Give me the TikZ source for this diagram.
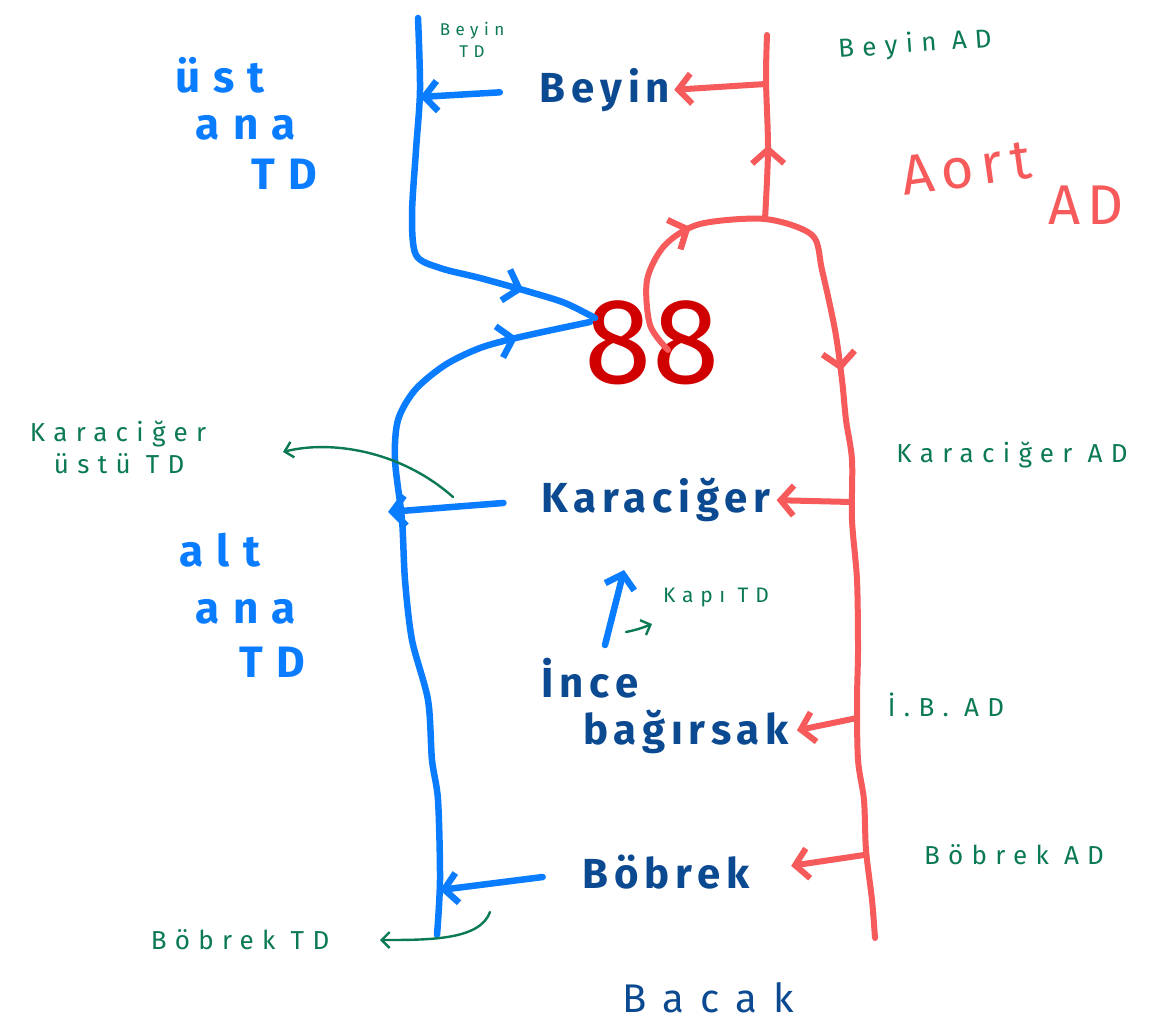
\documentclass[tikz,border=0pt]{standalone}
\usepackage{fontspec}
\usetikzlibrary{arrows.meta,decorations.markings}
\setmainfont{Fira Sans}
\newfontfamily\handfont[LetterSpace=14]{Fira Sans}
\newfontfamily\widefont[LetterSpace=40]{Fira Sans}
\newfontfamily\labelfont[LetterSpace=30]{Fira Sans}
\newfontfamily\notefont[LetterSpace=32]{Fira Sans}

\definecolor{organblue}{HTML}{0B4A91}
\definecolor{veinblue}{HTML}{0A7CFF}
\definecolor{arteryred}{HTML}{F65A5A}
\definecolor{heartred}{HTML}{D00000}
\definecolor{notegreen}{HTML}{0B7A52}

\tikzset{
  organ/.style={text=organblue, inner sep=0pt,
    font=\handfont\bfseries\fontsize{42}{46}\selectfont},
  veinlabel/.style={text=veinblue, inner sep=0pt,
    font=\labelfont\bfseries\fontsize{44}{48}\selectfont},
  aortlabel/.style={text=arteryred, inner sep=0pt,
    font=\handfont\fontsize{56}{60}\selectfont},
  note/.style={text=notegreen, inner sep=0pt,
    font=\notefont\fontsize{26}{32}\selectfont, align=center},
  tip/.style={-{Straight Barb[length=13pt,width=30pt]}},
  vein/.style={draw=veinblue, line width=6.5pt, line cap=round, line join=round},
  artery/.style={draw=arteryred, line width=6pt, line cap=round, line join=round},
  pointer/.style={draw=notegreen, line width=2.4pt, line cap=round,
    -{Straight Barb[length=8pt,width=16pt]}},
  flow/.style={postaction={decorate}, decoration={markings,
    mark=at position #1 with {\arrow{Straight Barb[length=14pt,width=32pt]}}}}
}

\begin{document}
\begin{tikzpicture}[x=1pt, y=-1pt]
\fill[white] (0,0) rectangle (1174,1027);
\useasboundingbox (0,0) rectangle (1174,1027);

% organs
\node[organ] (beyin) at (605,90) {Beyin};
\node[organ] (karaciger) at (656,500) {Karaciğer};
\node[organ] (ince) at (590,678) {İnce};
\node[organ] (bagirsak) at (686,732) {bağırsak};
\node[organ] (bobrek) at (666,872) {Böbrek};
\node[organ, font=\widefont\fontsize{40}{44}\selectfont] (bacak) at (708,998) {Bacak};

% heart
\node[text=heartred, inner sep=0pt, font=\fontsize{122}{124}\selectfont]
  (heart) at (652,343) {88};

% vein labels
\node[veinlabel] (ust1) at (220,75) {üst};
\node[veinlabel] (ust2) at (246,128) {ana};
\node[veinlabel] (ust3) at (284,174) {TD};
\node[veinlabel] (alt1) at (220,550) {alt};
\node[veinlabel] (alt2) at (246,612) {ana};
\node[veinlabel] (alt3) at (272,662) {TD};

% aorta label
\node[aortlabel, rotate=8] (aort) at (966,168) {Aort};
\node[aortlabel] (aortad) at (1086,205) {AD};

% notes
\node[note, font=\notefont\fontsize{17}{22}\selectfont] (beyintd) at (472,40) {Beyin\\TD};
\node[note, rotate=4] (beyinad) at (915,45) {Beyin AD};
\node[note, align=left] (karustu) at (118,447) {Karaciğer\\\hspace{24pt}üstü TD};
\node[note] (karad) at (1012,455) {Karaciğer AD};
\node[note, font=\notefont\fontsize{21}{25}\selectfont] (kapitd) at (716,597) {Kapı TD};
\node[note] (ibad) at (946,705) {İ.B. AD};
\node[note] (bobad) at (1014,855) {Böbrek AD};
\node[note] (bobtd) at (240,940) {Böbrek TD};

% venous vessels
\coordinate (vtop) at (418,18);
\coordinate (vbeyin) at (420,97);
\coordinate (vin1) at (595,318);
\coordinate (vin2) at (590,322);
\coordinate (vbot) at (437,935);
\coordinate (vkar) at (388,512);
\coordinate (vbob) at (440,890);

\draw[vein, flow=0.82] plot[smooth, tension=0.5] coordinates {
  (vtop) (420,90) (416,150) (412,215) (416,255) (440,268) (480,278)
  (530,292) (565,303) (vin1)};
\draw[vein, flow=0.9] plot[smooth, tension=0.5] coordinates {
  (vbot) (440,880) (438,800) (432,760) (428,700) (412,640) (405,580)
  (402,520) (395,460) (398,420) (415,390) (445,365) (480,348)
  (520,337) (vin2)};

\draw[vein, tip, shorten <=40pt] (beyin.west) -- (vbeyin);
\draw[vein, tip, shorten <=38pt] (karaciger.west) -- (vkar);
\draw[vein, tip, shorten <=40pt] (bobrek.west) -- (vbob);
\draw[vein, tip] (605,645) -- (624,570);

% arterial vessels
\coordinate (aheart) at (668,350);
\coordinate (afork) at (765,219);
\coordinate (atop) at (767,35);
\coordinate (abot) at (875,938);
\coordinate (abeyin) at (766,84);
\coordinate (akar) at (851,502);
\coordinate (aib) at (857,718);
\coordinate (abob) at (864,855);

\draw[artery, flow=0.15, flow=0.42] plot[smooth, tension=0.5] coordinates {
  (aheart) (650,325) (647,280) (665,245) (700,224) (afork) (812,235)
  (822,270) (835,330) (842,380) (846,420) (852,460) (852,520) (857,580)
  (858,650) (857,700) (858,760) (864,800) (866,850) (872,900) (abot)};
\draw[artery, flow=0.4] plot[smooth, tension=0.5] coordinates {
  (afork) (768,150) (766,80) (atop)};

\draw[artery, tip, shorten >=4pt] (abeyin) -- (beyin.east);
\draw[artery, tip, shorten >=6pt] (akar) -- (karaciger.east);
\draw[artery, tip, shorten >=8pt] (aib) -- (bagirsak.east);
\draw[artery, tip, shorten >=42pt] (abob) -- (bobrek.east);

% pointers
\draw[pointer] (453,497) .. controls (400,450) and (330,440) .. (283,452);
\draw[pointer] (490,912) .. controls (480,940) and (430,940) .. (380,940);
\draw[pointer] (626,632) .. controls (636,630) and (642,628) .. (652,624);
\end{tikzpicture}
\end{document}
